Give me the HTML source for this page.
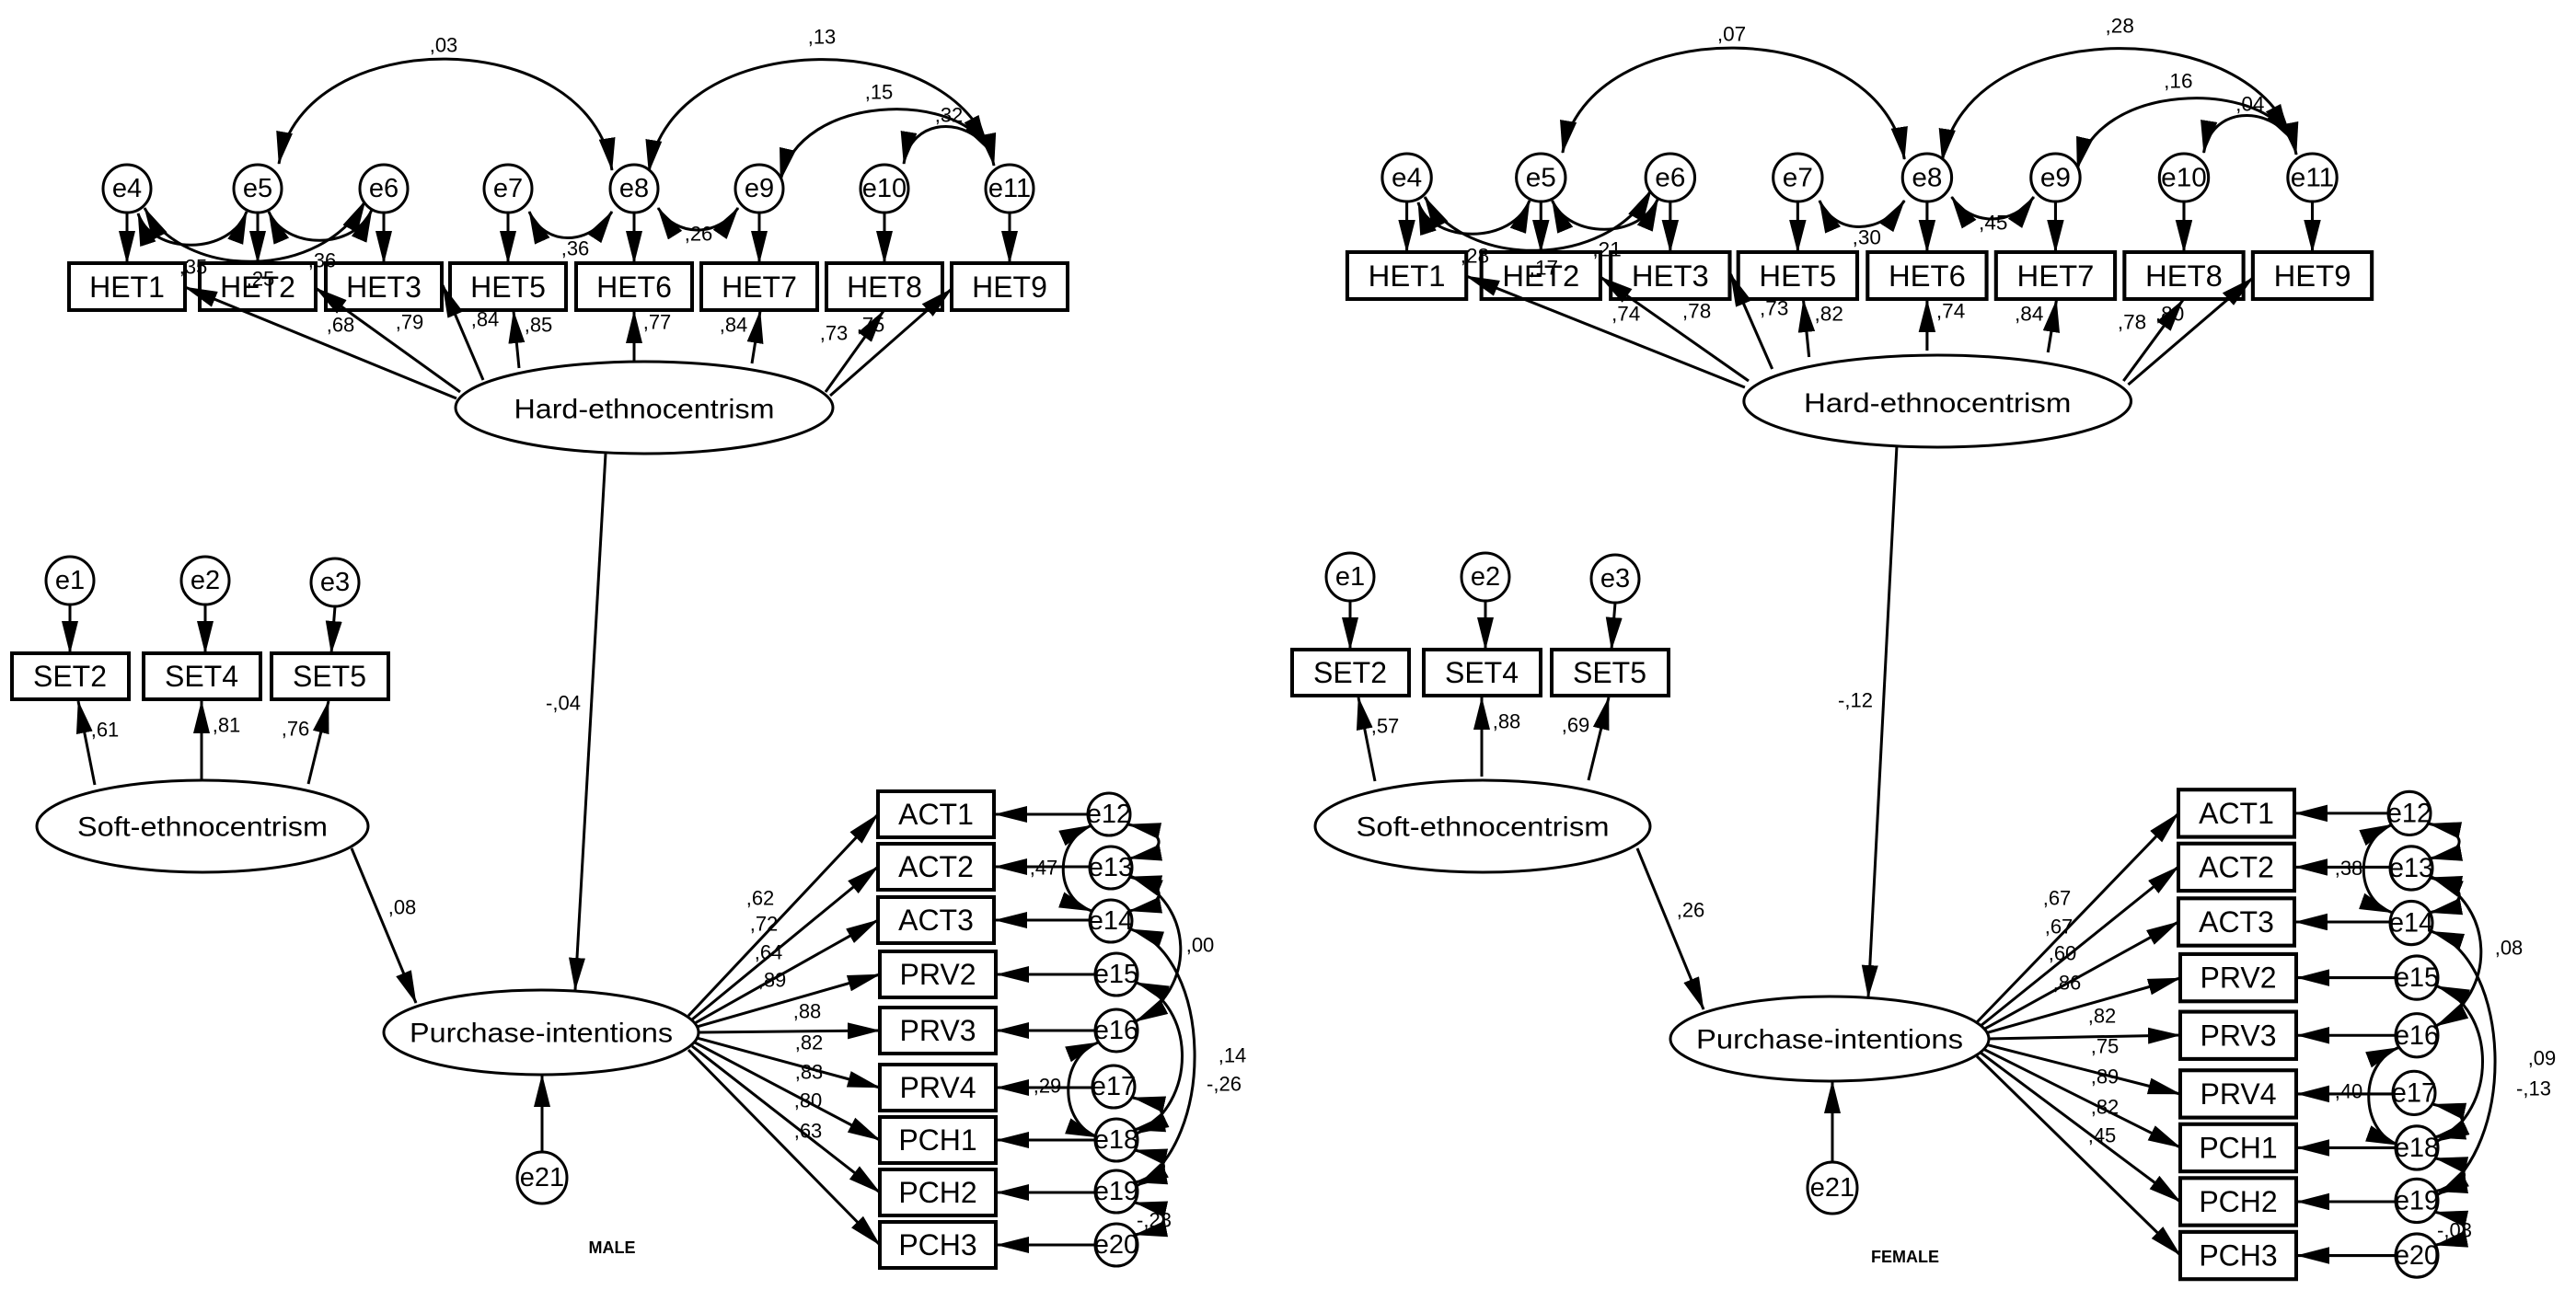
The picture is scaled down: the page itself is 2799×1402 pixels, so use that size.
<!DOCTYPE html>
<html><head><meta charset="utf-8"><style>
html,body{margin:0;padding:0;background:#fff;}
svg{display:block;}
text{font-family:"Liberation Sans",Arial,sans-serif;fill:#000;}
.n{font-size:22px;text-anchor:middle;dominant-baseline:central;}
.e{font-size:29px;text-anchor:middle;dominant-baseline:central;}
.b{font-size:32px;text-anchor:middle;dominant-baseline:central;}
.l{font-size:30px;text-anchor:middle;dominant-baseline:central;}
.ln{stroke:#000;stroke-width:3;fill:none;}
.s{stroke:#000;stroke-width:3;fill:none;marker-end:url(#a);}
.d{stroke:#000;stroke-width:3;fill:none;marker-end:url(#a);marker-start:url(#a);}
.bx{fill:#fff;stroke:#000;stroke-width:4;}
.ci{fill:#fff;stroke:#000;stroke-width:3;}
.t{font-size:18px;font-weight:bold;text-anchor:middle;}
</style></head><body>
<svg width="2799" height="1402" viewBox="0 0 2799 1402" xmlns="http://www.w3.org/2000/svg">
<defs>
<marker id="a" markerUnits="userSpaceOnUse" markerWidth="38" markerHeight="20" refX="35" refY="9" orient="auto-start-reverse" viewBox="0 0 38 20"><path d="M0,0 L36,9 L0,18 z" fill="#000"/></marker>
</defs>

<!-- ================= MALE ================= -->
<g>
<path class="d" d="M303,178 C330,25 640,25 665,185"/>
<path class="d" d="M705,187 C730,25 1050,25 1080,180"/>
<path class="d" d="M848,196 C870,100 1040,100 1072,160"/>
<path class="d" d="M982,178 C990,128 1050,125 1076,165"/>
<path class="d" d="M575,230 C592,268 640,268 665,230"/>
<path class="d" d="M715,226 C735,258 780,258 802,226"/>
<path class="d" d="M150,232 C165,278 250,278 268,230"/>
<path class="d" d="M292,230 C310,272 385,272 404,228"/>
<path class="d" d="M157,226 C200,305 350,305 397,218"/>
<line class="s" x1="138" y1="231" x2="138" y2="286"/>
<line class="s" x1="280" y1="231" x2="280" y2="286"/>
<line class="s" x1="417" y1="231" x2="417" y2="286"/>
<line class="s" x1="552" y1="231" x2="552" y2="286"/>
<line class="s" x1="689" y1="231" x2="689" y2="286"/>
<line class="s" x1="825" y1="231" x2="825" y2="286"/>
<line class="s" x1="961" y1="231" x2="961" y2="286"/>
<line class="s" x1="1097" y1="231" x2="1097" y2="286"/>
<circle class="ci" cx="138" cy="205" r="26"/><text class="e" x="138" y="205">e4</text>
<circle class="ci" cx="280" cy="205" r="26"/><text class="e" x="280" y="205">e5</text>
<circle class="ci" cx="417" cy="205" r="26"/><text class="e" x="417" y="205">e6</text>
<circle class="ci" cx="552" cy="205" r="26"/><text class="e" x="552" y="205">e7</text>
<circle class="ci" cx="689" cy="205" r="26"/><text class="e" x="689" y="205">e8</text>
<circle class="ci" cx="825" cy="205" r="26"/><text class="e" x="825" y="205">e9</text>
<circle class="ci" cx="961" cy="205" r="26"/><text class="e" x="961" y="205">e10</text>
<circle class="ci" cx="1097" cy="205" r="26"/><text class="e" x="1097" y="205">e11</text>
<rect class="bx" x="75" y="286" width="126" height="51"/><text class="b" x="138" y="312">HET1</text>
<rect class="bx" x="217" y="286" width="126" height="51"/><text class="b" x="280" y="312">HET2</text>
<rect class="bx" x="354" y="286" width="126" height="51"/><text class="b" x="417" y="312">HET3</text>
<rect class="bx" x="489" y="286" width="126" height="51"/><text class="b" x="552" y="312">HET5</text>
<rect class="bx" x="626" y="286" width="126" height="51"/><text class="b" x="689" y="312">HET6</text>
<rect class="bx" x="762" y="286" width="126" height="51"/><text class="b" x="825" y="312">HET7</text>
<rect class="bx" x="898" y="286" width="126" height="51"/><text class="b" x="961" y="312">HET8</text>
<rect class="bx" x="1034" y="286" width="126" height="51"/><text class="b" x="1097" y="312">HET9</text>
<line class="s" x1="496" y1="433" x2="201" y2="312"/>
<line class="s" x1="500" y1="426" x2="343" y2="313"/>
<line class="s" x1="525" y1="413" x2="481" y2="310"/>
<line class="s" x1="564" y1="400" x2="558" y2="338"/>
<line class="s" x1="689" y1="393" x2="689" y2="338"/>
<line class="s" x1="817" y1="395" x2="826" y2="338"/>
<line class="s" x1="897" y1="426" x2="960" y2="338"/>
<line class="s" x1="902" y1="430" x2="1034" y2="314"/>
<ellipse class="ci" cx="700" cy="443" rx="205" ry="50"/>
<text class="l" x="700" y="445" textLength="283" lengthAdjust="spacingAndGlyphs">Hard-ethnocentrism</text>
<text class="n" x="482" y="49">,03</text>
<text class="n" x="893" y="40">,13</text>
<text class="n" x="955" y="100">,15</text>
<text class="n" x="1031" y="125">,32</text>
<text class="n" x="625" y="270">,36</text>
<text class="n" x="759" y="254">,26</text>
<text class="n" x="210" y="290">,35</text>
<text class="n" x="283" y="303">,25</text>
<text class="n" x="350" y="283">,36</text>
<text class="n" x="370" y="353">,68</text>
<text class="n" x="445" y="350">,79</text>
<text class="n" x="527" y="347">,84</text>
<text class="n" x="585" y="353">,85</text>
<text class="n" x="714" y="350">,77</text>
<text class="n" x="797" y="353">,84</text>
<text class="n" x="906" y="362">,73</text>
<text class="n" x="946" y="353">,75</text>
</g>

<g>
<line class="s" x1="76" y1="657" x2="76" y2="710"/>
<line class="s" x1="223" y1="657" x2="223" y2="710"/>
<line class="s" x1="364" y1="659" x2="360" y2="710"/>
<circle class="ci" cx="76" cy="631" r="26"/><text class="e" x="76" y="631">e1</text>
<circle class="ci" cx="223" cy="631" r="26"/><text class="e" x="223" y="631">e2</text>
<circle class="ci" cx="364" cy="633" r="26"/><text class="e" x="364" y="633">e3</text>
<rect class="bx" x="13" y="710" width="127" height="50"/><text class="b" x="76" y="735">SET2</text>
<rect class="bx" x="156" y="710" width="127" height="50"/><text class="b" x="219" y="735">SET4</text>
<rect class="bx" x="295" y="710" width="127" height="50"/><text class="b" x="358" y="735">SET5</text>
<line class="s" x1="103" y1="853" x2="85" y2="762"/>
<line class="s" x1="219" y1="848" x2="219" y2="762"/>
<line class="s" x1="335" y1="852" x2="357" y2="762"/>
<ellipse class="ci" cx="220" cy="898" rx="180" ry="50"/>
<text class="l" x="220" y="899" textLength="272" lengthAdjust="spacingAndGlyphs">Soft-ethnocentrism</text>
<text class="n" x="114" y="793">,61</text>
<text class="n" x="246" y="788">,81</text>
<text class="n" x="321" y="792">,76</text>
</g>

<line class="s" x1="658" y1="493" x2="625" y2="1076"/>
<line class="s" x1="382" y1="922" x2="452" y2="1090"/>
<text class="n" x="612" y="764">-,04</text>
<text class="n" x="437" y="986">,08</text>
<line class="s" x1="748" y1="1104" x2="954" y2="885"/>
<line class="s" x1="752" y1="1108" x2="954" y2="942"/>
<line class="s" x1="755" y1="1112" x2="954" y2="1000"/>
<line class="s" x1="757" y1="1116" x2="956" y2="1059"/>
<line class="s" x1="759" y1="1122" x2="956" y2="1120"/>
<line class="s" x1="757" y1="1128" x2="956" y2="1182"/>
<line class="s" x1="755" y1="1133" x2="956" y2="1239"/>
<line class="s" x1="752" y1="1137" x2="956" y2="1296"/>
<line class="s" x1="748" y1="1141" x2="956" y2="1353"/>
<ellipse class="ci" cx="588" cy="1122" rx="171" ry="46"/>
<text class="l" x="588" y="1123" textLength="286" lengthAdjust="spacingAndGlyphs">Purchase-intentions</text>
<line class="s" x1="589" y1="1252" x2="589" y2="1168"/>
<ellipse class="ci" cx="589" cy="1280" rx="27" ry="28"/><text class="e" x="589" y="1280">e21</text>
<text class="n" x="826" y="976">,62</text>
<text class="n" x="830" y="1004">,72</text>
<text class="n" x="835" y="1035">,64</text>
<text class="n" x="839" y="1065">,89</text>
<text class="n" x="877" y="1099">,88</text>
<text class="n" x="879" y="1133">,82</text>
<text class="n" x="879" y="1165">,83</text>
<text class="n" x="878" y="1196">,80</text>
<text class="n" x="878" y="1229">,63</text>
<text class="t" x="665" y="1362">MALE</text>

<g>
<rect class="bx" x="954" y="860" width="126" height="50"/><text class="b" x="1017" y="885">ACT1</text>
<rect class="bx" x="954" y="917" width="126" height="50"/><text class="b" x="1017" y="942">ACT2</text>
<rect class="bx" x="954" y="975" width="126" height="50"/><text class="b" x="1017" y="1000">ACT3</text>
<rect class="bx" x="956" y="1034" width="126" height="50"/><text class="b" x="1019" y="1059">PRV2</text>
<rect class="bx" x="956" y="1095" width="126" height="50"/><text class="b" x="1019" y="1120">PRV3</text>
<rect class="bx" x="956" y="1157" width="126" height="50"/><text class="b" x="1019" y="1182">PRV4</text>
<rect class="bx" x="956" y="1214" width="126" height="50"/><text class="b" x="1019" y="1239">PCH1</text>
<rect class="bx" x="956" y="1271" width="126" height="50"/><text class="b" x="1019" y="1296">PCH2</text>
<rect class="bx" x="956" y="1328" width="126" height="50"/><text class="b" x="1019" y="1353">PCH3</text>
<line class="s" x1="1183" y1="885" x2="1081" y2="885"/>
<line class="s" x1="1184" y1="942" x2="1081" y2="942"/>
<line class="s" x1="1184" y1="1000" x2="1081" y2="1000"/>
<line class="s" x1="1190" y1="1059" x2="1083" y2="1059"/>
<line class="s" x1="1190" y1="1120" x2="1083" y2="1120"/>
<line class="s" x1="1187" y1="1182" x2="1083" y2="1182"/>
<line class="s" x1="1190" y1="1239" x2="1083" y2="1239"/>
<line class="s" x1="1190" y1="1296" x2="1083" y2="1296"/>
<line class="s" x1="1190" y1="1353" x2="1083" y2="1353"/>
<path class="d" d="M1186,897 C1145,915 1145,975 1186,990"/>
<path class="d" d="M1193,1133 C1150,1150 1150,1220 1193,1236"/>
<path class="d" d="M1226,896 C1270,905 1270,925 1227,933"/>
<path class="d" d="M1227,953 C1270,962 1270,982 1227,990"/>
<path class="d" d="M1231,1193 C1273,1202 1273,1220 1231,1228"/>
<path class="d" d="M1233,1250 C1275,1259 1275,1277 1233,1285"/>
<path class="d" d="M1233,1307 C1275,1316 1275,1334 1233,1342"/>
<path class="d" d="M1228,952 C1298,980 1302,1075 1234,1110"/>
<path class="d" d="M1229,1010 C1318,1040 1322,1240 1235,1289"/>
<path class="d" d="M1235,1068 C1300,1092 1302,1200 1235,1232"/>
<circle class="ci" cx="1205" cy="885" r="23"/><text class="e" x="1205" y="885">e12</text>
<circle class="ci" cx="1207" cy="943" r="23"/><text class="e" x="1207" y="943">e13</text>
<circle class="ci" cx="1207" cy="1001" r="23"/><text class="e" x="1207" y="1001">e14</text>
<circle class="ci" cx="1213" cy="1059" r="23"/><text class="e" x="1213" y="1059">e15</text>
<circle class="ci" cx="1213" cy="1120" r="23"/><text class="e" x="1213" y="1120">e16</text>
<circle class="ci" cx="1210" cy="1181" r="23"/><text class="e" x="1210" y="1181">e17</text>
<circle class="ci" cx="1213" cy="1239" r="23"/><text class="e" x="1213" y="1239">e18</text>
<circle class="ci" cx="1213" cy="1295" r="23"/><text class="e" x="1213" y="1295">e19</text>
<circle class="ci" cx="1213" cy="1353" r="23"/><text class="e" x="1213" y="1353">e20</text>
<text class="n" x="1134" y="943">,47</text>
<text class="n" x="1138" y="1180">,29</text>
<text class="n" x="1304" y="1027">,00</text>
<text class="n" x="1339" y="1147">,14</text>
<text class="n" x="1330" y="1178">-,26</text>
<text class="n" x="1254" y="1326">-,23</text>
</g>

<!-- ================= FEMALE ================= -->
<g transform="matrix(1.026,0,0,1,1387,-12)">
<path class="d" d="M303,178 C330,25 640,25 665,185"/>
<path class="d" d="M705,187 C730,25 1050,25 1080,180"/>
<path class="d" d="M848,196 C870,100 1040,100 1072,160"/>
<path class="d" d="M982,178 C990,128 1050,125 1076,165"/>
<path class="d" d="M575,230 C592,268 640,268 665,230"/>
<path class="d" d="M715,226 C735,258 780,258 802,226"/>
<path class="d" d="M150,232 C165,278 250,278 268,230"/>
<path class="d" d="M292,230 C310,272 385,272 404,228"/>
<path class="d" d="M157,226 C200,305 350,305 397,218"/>
<line class="s" x1="138" y1="231" x2="138" y2="286"/>
<line class="s" x1="280" y1="231" x2="280" y2="286"/>
<line class="s" x1="417" y1="231" x2="417" y2="286"/>
<line class="s" x1="552" y1="231" x2="552" y2="286"/>
<line class="s" x1="689" y1="231" x2="689" y2="286"/>
<line class="s" x1="825" y1="231" x2="825" y2="286"/>
<line class="s" x1="961" y1="231" x2="961" y2="286"/>
<line class="s" x1="1097" y1="231" x2="1097" y2="286"/>
<circle class="ci" cx="138" cy="205" r="26"/><text class="e" x="138" y="205">e4</text>
<circle class="ci" cx="280" cy="205" r="26"/><text class="e" x="280" y="205">e5</text>
<circle class="ci" cx="417" cy="205" r="26"/><text class="e" x="417" y="205">e6</text>
<circle class="ci" cx="552" cy="205" r="26"/><text class="e" x="552" y="205">e7</text>
<circle class="ci" cx="689" cy="205" r="26"/><text class="e" x="689" y="205">e8</text>
<circle class="ci" cx="825" cy="205" r="26"/><text class="e" x="825" y="205">e9</text>
<circle class="ci" cx="961" cy="205" r="26"/><text class="e" x="961" y="205">e10</text>
<circle class="ci" cx="1097" cy="205" r="26"/><text class="e" x="1097" y="205">e11</text>
<rect class="bx" x="75" y="286" width="126" height="51"/><text class="b" x="138" y="312">HET1</text>
<rect class="bx" x="217" y="286" width="126" height="51"/><text class="b" x="280" y="312">HET2</text>
<rect class="bx" x="354" y="286" width="126" height="51"/><text class="b" x="417" y="312">HET3</text>
<rect class="bx" x="489" y="286" width="126" height="51"/><text class="b" x="552" y="312">HET5</text>
<rect class="bx" x="626" y="286" width="126" height="51"/><text class="b" x="689" y="312">HET6</text>
<rect class="bx" x="762" y="286" width="126" height="51"/><text class="b" x="825" y="312">HET7</text>
<rect class="bx" x="898" y="286" width="126" height="51"/><text class="b" x="961" y="312">HET8</text>
<rect class="bx" x="1034" y="286" width="126" height="51"/><text class="b" x="1097" y="312">HET9</text>
<line class="s" x1="496" y1="433" x2="201" y2="312"/>
<line class="s" x1="500" y1="426" x2="343" y2="313"/>
<line class="s" x1="525" y1="413" x2="481" y2="310"/>
<line class="s" x1="564" y1="400" x2="558" y2="338"/>
<line class="s" x1="689" y1="393" x2="689" y2="338"/>
<line class="s" x1="817" y1="395" x2="826" y2="338"/>
<line class="s" x1="897" y1="426" x2="960" y2="338"/>
<line class="s" x1="902" y1="430" x2="1034" y2="314"/>
<ellipse class="ci" cx="700" cy="448" rx="205" ry="50"/>
<text class="l" x="700" y="450" textLength="283" lengthAdjust="spacingAndGlyphs">Hard-ethnocentrism</text>
<text class="n" x="482" y="49">,07</text>
<text class="n" x="893" y="40">,28</text>
<text class="n" x="955" y="100">,16</text>
<text class="n" x="1031" y="125">,04</text>
<text class="n" x="625" y="270">,30</text>
<text class="n" x="759" y="254">,45</text>
<text class="n" x="210" y="290">,28</text>
<text class="n" x="283" y="303">,17</text>
<text class="n" x="350" y="283">,21</text>
<text class="n" x="370" y="353">,74</text>
<text class="n" x="445" y="350">,78</text>
<text class="n" x="527" y="347">,73</text>
<text class="n" x="585" y="353">,82</text>
<text class="n" x="714" y="350">,74</text>
<text class="n" x="797" y="353">,84</text>
<text class="n" x="906" y="362">,78</text>
<text class="n" x="946" y="353">,80</text>
</g>

<g transform="translate(1391,-4)">
<line class="s" x1="76" y1="657" x2="76" y2="710"/>
<line class="s" x1="223" y1="657" x2="223" y2="710"/>
<line class="s" x1="364" y1="659" x2="360" y2="710"/>
<circle class="ci" cx="76" cy="631" r="26"/><text class="e" x="76" y="631">e1</text>
<circle class="ci" cx="223" cy="631" r="26"/><text class="e" x="223" y="631">e2</text>
<circle class="ci" cx="364" cy="633" r="26"/><text class="e" x="364" y="633">e3</text>
<rect class="bx" x="13" y="710" width="127" height="50"/><text class="b" x="76" y="735">SET2</text>
<rect class="bx" x="156" y="710" width="127" height="50"/><text class="b" x="219" y="735">SET4</text>
<rect class="bx" x="295" y="710" width="127" height="50"/><text class="b" x="358" y="735">SET5</text>
<line class="s" x1="103" y1="853" x2="85" y2="762"/>
<line class="s" x1="219" y1="848" x2="219" y2="762"/>
<line class="s" x1="335" y1="852" x2="357" y2="762"/>
<ellipse class="ci" cx="220" cy="902" rx="182" ry="50"/>
<text class="l" x="220" y="903" textLength="275" lengthAdjust="spacingAndGlyphs">Soft-ethnocentrism</text>
<text class="n" x="114" y="793">,57</text>
<text class="n" x="246" y="788">,88</text>
<text class="n" x="321" y="792">,69</text>
</g>

<line class="s" x1="2061" y1="484" x2="2030" y2="1084"/>
<line class="s" x1="1779" y1="922" x2="1851" y2="1097"/>
<text class="n" x="2016" y="761">-,12</text>
<text class="n" x="1837" y="989">,26</text>
<line class="s" x1="2148" y1="1111" x2="2367" y2="884"/>
<line class="s" x1="2152" y1="1115" x2="2367" y2="942"/>
<line class="s" x1="2155" y1="1119" x2="2367" y2="1002"/>
<line class="s" x1="2157" y1="1123" x2="2369" y2="1063"/>
<line class="s" x1="2159" y1="1129" x2="2369" y2="1125"/>
<line class="s" x1="2157" y1="1135" x2="2369" y2="1189"/>
<line class="s" x1="2155" y1="1140" x2="2369" y2="1247"/>
<line class="s" x1="2152" y1="1144" x2="2369" y2="1306"/>
<line class="s" x1="2148" y1="1148" x2="2369" y2="1364"/>
<ellipse class="ci" cx="1988" cy="1129" rx="173" ry="46"/>
<text class="l" x="1988" y="1130" textLength="290" lengthAdjust="spacingAndGlyphs">Purchase-intentions</text>
<line class="s" x1="1991" y1="1263" x2="1991" y2="1175"/>
<ellipse class="ci" cx="1991" cy="1291" rx="27" ry="28"/><text class="e" x="1991" y="1291">e21</text>
<text class="n" x="2235" y="976">,67</text>
<text class="n" x="2237" y="1007">,67</text>
<text class="n" x="2241" y="1036">,60</text>
<text class="n" x="2246" y="1068">,86</text>
<text class="n" x="2284" y="1104">,82</text>
<text class="n" x="2287" y="1137">,75</text>
<text class="n" x="2287" y="1170">,89</text>
<text class="n" x="2287" y="1203">,82</text>
<text class="n" x="2284" y="1234">,45</text>
<text class="t" x="2070" y="1372">FEMALE</text>

<g transform="matrix(1,0,0,1.027,1413,-25)">
<rect class="bx" x="954" y="860" width="126" height="50"/><text class="b" x="1017" y="885">ACT1</text>
<rect class="bx" x="954" y="917" width="126" height="50"/><text class="b" x="1017" y="942">ACT2</text>
<rect class="bx" x="954" y="975" width="126" height="50"/><text class="b" x="1017" y="1000">ACT3</text>
<rect class="bx" x="956" y="1034" width="126" height="50"/><text class="b" x="1019" y="1059">PRV2</text>
<rect class="bx" x="956" y="1095" width="126" height="50"/><text class="b" x="1019" y="1120">PRV3</text>
<rect class="bx" x="956" y="1157" width="126" height="50"/><text class="b" x="1019" y="1182">PRV4</text>
<rect class="bx" x="956" y="1214" width="126" height="50"/><text class="b" x="1019" y="1239">PCH1</text>
<rect class="bx" x="956" y="1271" width="126" height="50"/><text class="b" x="1019" y="1296">PCH2</text>
<rect class="bx" x="956" y="1328" width="126" height="50"/><text class="b" x="1019" y="1353">PCH3</text>
<line class="s" x1="1183" y1="885" x2="1081" y2="885"/>
<line class="s" x1="1184" y1="942" x2="1081" y2="942"/>
<line class="s" x1="1184" y1="1000" x2="1081" y2="1000"/>
<line class="s" x1="1190" y1="1059" x2="1083" y2="1059"/>
<line class="s" x1="1190" y1="1120" x2="1083" y2="1120"/>
<line class="s" x1="1187" y1="1182" x2="1083" y2="1182"/>
<line class="s" x1="1190" y1="1239" x2="1083" y2="1239"/>
<line class="s" x1="1190" y1="1296" x2="1083" y2="1296"/>
<line class="s" x1="1190" y1="1353" x2="1083" y2="1353"/>
<path class="d" d="M1186,897 C1145,915 1145,975 1186,990"/>
<path class="d" d="M1193,1133 C1150,1150 1150,1220 1193,1236"/>
<path class="d" d="M1226,896 C1270,905 1270,925 1227,933"/>
<path class="d" d="M1227,953 C1270,962 1270,982 1227,990"/>
<path class="d" d="M1231,1193 C1273,1202 1273,1220 1231,1228"/>
<path class="d" d="M1233,1250 C1275,1259 1275,1277 1233,1285"/>
<path class="d" d="M1233,1307 C1275,1316 1275,1334 1233,1342"/>
<path class="d" d="M1228,952 C1298,980 1302,1075 1234,1110"/>
<path class="d" d="M1229,1010 C1318,1040 1322,1240 1235,1289"/>
<path class="d" d="M1235,1068 C1300,1092 1302,1200 1235,1232"/>
<circle class="ci" cx="1205" cy="885" r="23"/><text class="e" x="1205" y="885">e12</text>
<circle class="ci" cx="1207" cy="943" r="23"/><text class="e" x="1207" y="943">e13</text>
<circle class="ci" cx="1207" cy="1001" r="23"/><text class="e" x="1207" y="1001">e14</text>
<circle class="ci" cx="1213" cy="1059" r="23"/><text class="e" x="1213" y="1059">e15</text>
<circle class="ci" cx="1213" cy="1120" r="23"/><text class="e" x="1213" y="1120">e16</text>
<circle class="ci" cx="1210" cy="1181" r="23"/><text class="e" x="1210" y="1181">e17</text>
<circle class="ci" cx="1213" cy="1239" r="23"/><text class="e" x="1213" y="1239">e18</text>
<circle class="ci" cx="1213" cy="1295" r="23"/><text class="e" x="1213" y="1295">e19</text>
<circle class="ci" cx="1213" cy="1353" r="23"/><text class="e" x="1213" y="1353">e20</text>
<text class="n" x="1139" y="943">,38</text>
<text class="n" x="1139" y="1179">,40</text>
<text class="n" x="1313" y="1027">,08</text>
<text class="n" x="1349" y="1144">,09</text>
<text class="n" x="1340" y="1176">-,13</text>
<text class="n" x="1254" y="1326">-,03</text>
</g>
</svg>
</body></html>
